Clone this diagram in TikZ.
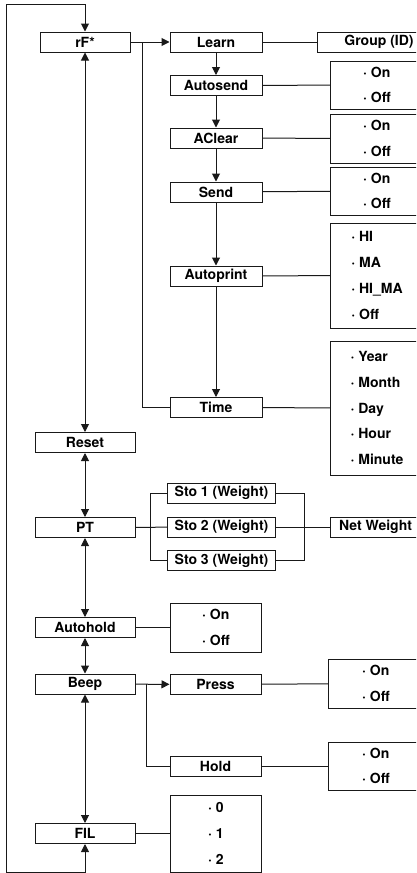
\documentclass[tikz,border=0pt]{standalone}
\usepackage{fontspec}
\setmainfont{TeX Gyre Heros}
\usetikzlibrary{arrows.meta}

\begin{document}
\begin{tikzpicture}[x=1pt,y=-1pt,
    font=\fontsize{14}{25.7}\selectfont\bfseries,
    line width=1pt,draw=black!90,
    >={Triangle[length=8pt,width=8pt]},
    menu/.style={draw,inner sep=0pt,minimum width=#1,minimum height=20pt},
    menu/.default=100pt,
    opts/.style={draw,anchor=west,align=left,inner sep=0pt,minimum width=93pt,minimum height=#1}]
  \clip (0,0) rectangle (416,873);
  \draw
    (85,42) node[menu=90pt] (rf){rF*}
    (85,442.5) node[menu] (reset){Reset}
    (85,527.5) node[menu] (pt){PT}
    (85,627.5) node[menu] (autohold){Autohold}
    (85,684) node[menu] (beep){Beep}
    (85,833.5) node[menu] (fil){FIL};
  \draw
    (216,42) node[menu=92pt] (learn){Learn}
    (216,85.5) node[menu=92pt] (autosend){Autosend}
    (216,138) node[menu=92pt] (aclear){AClear}
    (216,192) node[menu=92pt] (send){Send}
    (216,276) node[menu=92pt] (autoprint){Autoprint}
    (216,407.5) node[menu=92pt] (time){Time}
    (215.5,684.5) node[menu=91pt] (press){Press}
    (215.5,766) node[menu=91pt] (hold){Hold};
  \draw
    (317,42) node[menu=123pt,anchor=west] (group){Group (ID)}
    (167,493) node[menu=108pt,anchor=west] (sto1){Sto 1 (Weight)}
    (167,527) node[menu=108pt,anchor=west] (sto2){Sto 2 (Weight)}
    (167,560.5) node[menu=108pt,anchor=west] (sto3){Sto 3 (Weight)}
    (330,527) node[menu=90pt,anchor=west] (net){Net Weight};
  \draw
    (330,85) node[opts=48pt] (autosendopt){· On\\· Off}
    (330,138.5) node[opts=49pt] (aclearopt){· On\\· Off}
    (330,191) node[opts=48pt] (sendopt){· On\\· Off}
    (330,275.5) node[opts=105pt] (autoprintopt){· HI\\· MA\\· HI\_MA\\· Off}
    (330,408) node[opts=134pt] (timeopt){· Year\\· Month\\· Day\\· Hour\\· Minute}
    (170,627.5) node[opts=49pt,minimum width=91pt] (autoholdopt){· On\\· Off}
    (328,683.5) node[opts=49pt,minimum width=95pt] (pressopt){· On\\· Off}
    (328,766) node[opts=48pt,minimum width=95pt] (holdopt){· On\\· Off}
    (170,833.5) node[opts=77pt,minimum width=91pt] (filopt){· 0\\· 1\\· 2};
  \begin{scope}[<->]
    \draw (rf) to (reset);
    \draw (reset) to (pt);
    \draw (pt) to (autohold);
    \draw (autohold) to (beep);
    \draw (beep) to (fil);
    \draw (fil.south) -- ++(0,28) -| (6,4) -| (rf.north);
  \end{scope}
  \begin{scope}[->]
    \draw (rf) to (learn);
    \draw (learn) to (autosend);
    \draw (autosend) to (aclear);
    \draw (aclear) to (send);
    \draw (send) to (autoprint);
    \draw (autoprint) to (time);
    \draw (beep) to (press);
  \end{scope}
  \begin{scope}[-]
    \draw (rf.east) ++(12,0) |- (time.west);
    \draw (beep.east) ++(11,0) |- (hold.west);
    \draw (learn) to (group);
    \draw (autosend) to (autosendopt);
    \draw (aclear) to (aclearopt);
    \draw (send) to (sendopt);
    \draw (autoprint) to (autoprintopt);
    \draw (time) to (timeopt);
    \draw (pt.east) -- ++(15,0) |- (sto1.west);
    \draw (pt.east) ++(15,0) |- (sto3.west);
    \draw (pt) to (sto2);
    \draw (sto1.east) -- ++(28,0) |- (sto3.east);
    \draw (sto2) to (net);
    \draw (autohold) to (autoholdopt);
    \draw (press) to (pressopt);
    \draw (hold) to (holdopt);
    \draw (fil) to (filopt);
  \end{scope}
\end{tikzpicture}
\end{document}
